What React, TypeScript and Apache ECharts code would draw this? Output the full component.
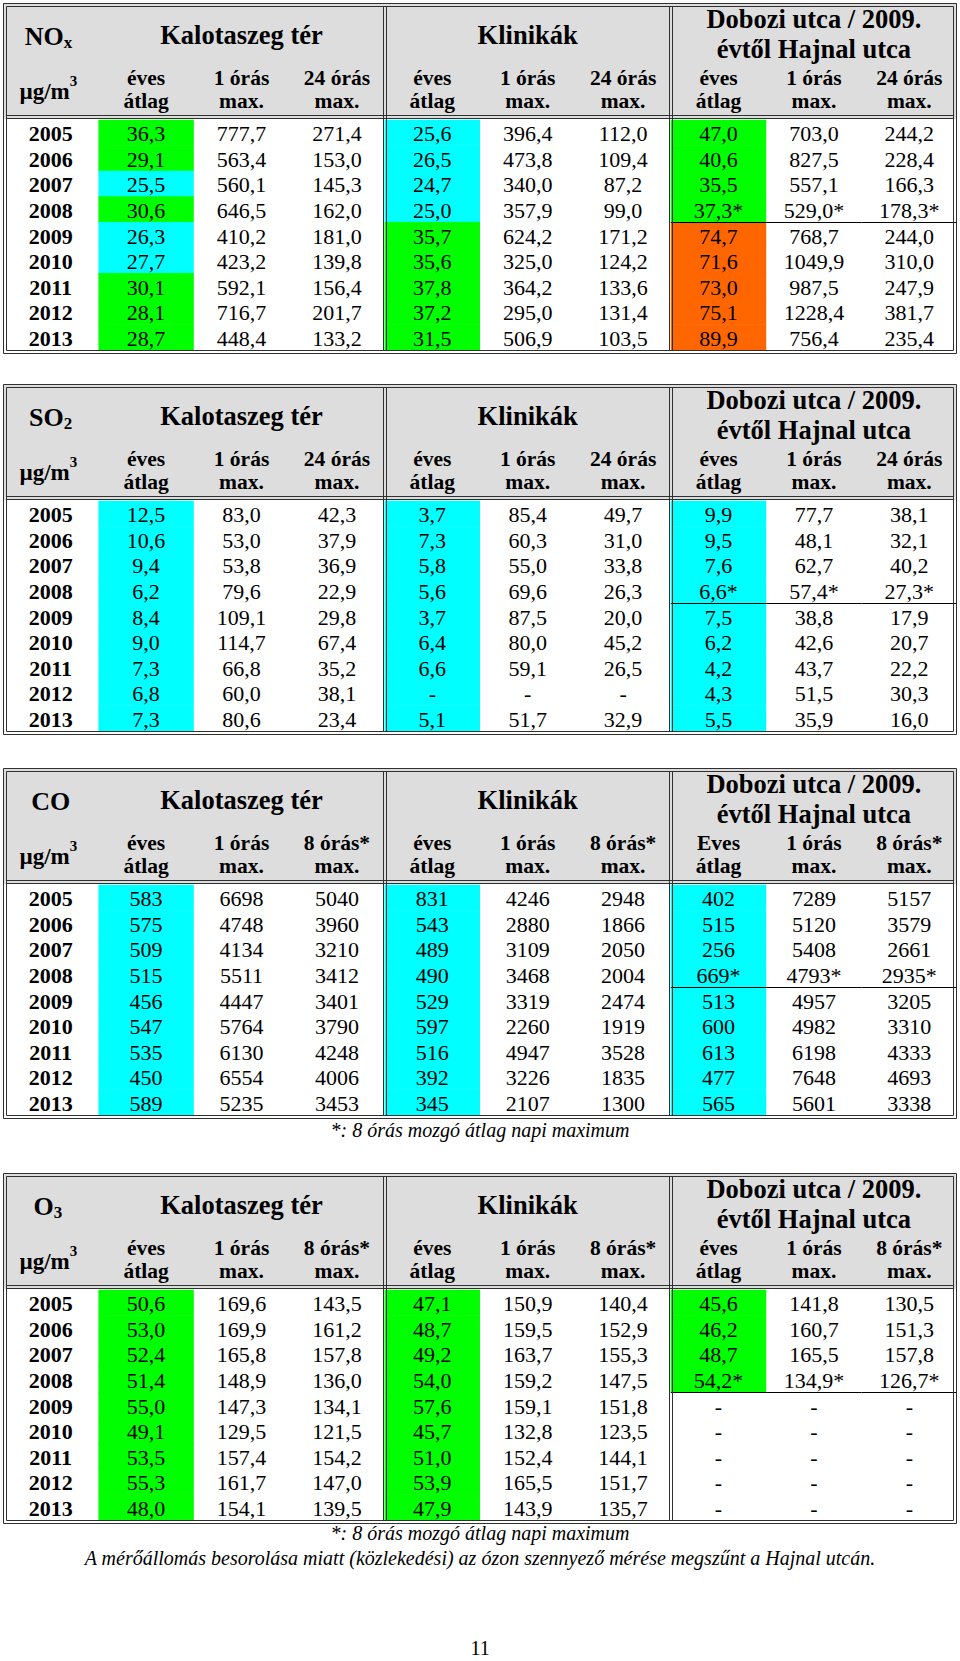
import React, { useEffect, useRef } from "react";
import * as echarts from "echarts";

const FONT = "'Liberation Serif', 'Times New Roman', serif";

// ---------- data ----------
const years = ["2005", "2006", "2007", "2008", "2009", "2010", "2011", "2012", "2013"];
const stationNames = [["Kalotaszeg tér"], ["Klinikák"], ["Dobozi utca / 2009.", "évtől Hajnal utca"]];
const provisionalYear = "2008"; // Dobozi utca values of this year carry a "*"
const provisionalStation = 2;

const subStd = [["éves", "átlag"], ["1 órás", "max."], ["24 órás", "max."]];
const sub8h = [["éves", "átlag"], ["1 órás", "max."], ["8 órás*", "max."]];
const sub8hCap = [["Eves", "átlag"], ["1 órás", "max."], ["8 órás*", "max."]];

// NOx
const noxKalAnnual = [36.3, 29.1, 25.5, 30.6, 26.3, 27.7, 30.1, 28.1, 28.7];
const noxKalMax1h = [777.7, 563.4, 560.1, 646.5, 410.2, 423.2, 592.1, 716.7, 448.4];
const noxKalMax24h = [271.4, 153.0, 145.3, 162.0, 181.0, 139.8, 156.4, 201.7, 133.2];
const noxKliAnnual = [25.6, 26.5, 24.7, 25.0, 35.7, 35.6, 37.8, 37.2, 31.5];
const noxKliMax1h = [396.4, 473.8, 340.0, 357.9, 624.2, 325.0, 364.2, 295.0, 506.9];
const noxKliMax24h = [112.0, 109.4, 87.2, 99.0, 171.2, 124.2, 133.6, 131.4, 103.5];
const noxDobAnnual = [47.0, 40.6, 35.5, 37.3, 74.7, 71.6, 73.0, 75.1, 89.9];
const noxDobMax1h = [703.0, 827.5, 557.1, 529.0, 768.7, 1049.9, 987.5, 1228.4, 756.4];
const noxDobMax24h = [244.2, 228.4, 166.3, 178.3, 244.0, 310.0, 247.9, 381.7, 235.4];
const noxKalClass = ["g", "g", "c", "g", "c", "c", "g", "g", "g"];
const noxKliClass = ["c", "c", "c", "c", "g", "g", "g", "g", "g"];
const noxDobClass = ["g", "g", "g", "g", "o", "o", "o", "o", "o"];

// SO2
const so2KalAnnual = [12.5, 10.6, 9.4, 6.2, 8.4, 9.0, 7.3, 6.8, 7.3];
const so2KalMax1h = [83.0, 53.0, 53.8, 79.6, 109.1, 114.7, 66.8, 60.0, 80.6];
const so2KalMax24h = [42.3, 37.9, 36.9, 22.9, 29.8, 67.4, 35.2, 38.1, 23.4];
const so2KliAnnual = [3.7, 7.3, 5.8, 5.6, 3.7, 6.4, 6.6, null, 5.1];
const so2KliMax1h = [85.4, 60.3, 55.0, 69.6, 87.5, 80.0, 59.1, null, 51.7];
const so2KliMax24h = [49.7, 31.0, 33.8, 26.3, 20.0, 45.2, 26.5, null, 32.9];
const so2DobAnnual = [9.9, 9.5, 7.6, 6.6, 7.5, 6.2, 4.2, 4.3, 5.5];
const so2DobMax1h = [77.7, 48.1, 62.7, 57.4, 38.8, 42.6, 43.7, 51.5, 35.9];
const so2DobMax24h = [38.1, 32.1, 40.2, 27.3, 17.9, 20.7, 22.2, 30.3, 16.0];
const so2KalClass = ["c", "c", "c", "c", "c", "c", "c", "c", "c"];
const so2KliClass = ["c", "c", "c", "c", "c", "c", "c", "c", "c"];
const so2DobClass = ["c", "c", "c", "c", "c", "c", "c", "c", "c"];

// CO
const coKalAnnual = [583, 575, 509, 515, 456, 547, 535, 450, 589];
const coKalMax1h = [6698, 4748, 4134, 5511, 4447, 5764, 6130, 6554, 5235];
const coKalMax8h = [5040, 3960, 3210, 3412, 3401, 3790, 4248, 4006, 3453];
const coKliAnnual = [831, 543, 489, 490, 529, 597, 516, 392, 345];
const coKliMax1h = [4246, 2880, 3109, 3468, 3319, 2260, 4947, 3226, 2107];
const coKliMax8h = [2948, 1866, 2050, 2004, 2474, 1919, 3528, 1835, 1300];
const coDobAnnual = [402, 515, 256, 669, 513, 600, 613, 477, 565];
const coDobMax1h = [7289, 5120, 5408, 4793, 4957, 4982, 6198, 7648, 5601];
const coDobMax8h = [5157, 3579, 2661, 2935, 3205, 3310, 4333, 4693, 3338];
const coKalClass = ["c", "c", "c", "c", "c", "c", "c", "c", "c"];
const coKliClass = ["c", "c", "c", "c", "c", "c", "c", "c", "c"];
const coDobClass = ["c", "c", "c", "c", "c", "c", "c", "c", "c"];

// O3
const o3KalAnnual = [50.6, 53.0, 52.4, 51.4, 55.0, 49.1, 53.5, 55.3, 48.0];
const o3KalMax1h = [169.6, 169.9, 165.8, 148.9, 147.3, 129.5, 157.4, 161.7, 154.1];
const o3KalMax8h = [143.5, 161.2, 157.8, 136.0, 134.1, 121.5, 154.2, 147.0, 139.5];
const o3KliAnnual = [47.1, 48.7, 49.2, 54.0, 57.6, 45.7, 51.0, 53.9, 47.9];
const o3KliMax1h = [150.9, 159.5, 163.7, 159.2, 159.1, 132.8, 152.4, 165.5, 143.9];
const o3KliMax8h = [140.4, 152.9, 155.3, 147.5, 151.8, 123.5, 144.1, 151.7, 135.7];
const o3DobAnnual = [45.6, 46.2, 48.7, 54.2, null, null, null, null, null];
const o3DobMax1h = [141.8, 160.7, 165.5, 134.9, null, null, null, null, null];
const o3DobMax8h = [130.5, 151.3, 157.8, 126.7, null, null, null, null, null];
const o3KalClass = ["g", "g", "g", "g", "g", "g", "g", "g", "g"];
const o3KliClass = ["g", "g", "g", "g", "g", "g", "g", "g", "g"];
const o3DobClass = ["g", "g", "g", "g", "", "", "", "", ""];

const footnote8h = "*: 8 órás mozgó átlag napi maximum";
const footnoteO3 = "A mérőállomás besorolása miatt (közlekedési) az ózon szennyező mérése megszűnt a Hajnal utcán.";
const pageNumber = "11";

// ---------- table specs ----------
const tables = [
  {
    main: "NO", sub: "x", top: 3, decimals: 1,
    subheads: [subStd, subStd, subStd],
    columns: [noxKalAnnual, noxKalMax1h, noxKalMax24h, noxKliAnnual, noxKliMax1h, noxKliMax24h, noxDobAnnual, noxDobMax1h, noxDobMax24h],
    classes: [noxKalClass, noxKliClass, noxDobClass],
  },
  {
    main: "SO", sub: "2", top: 384, decimals: 1,
    subheads: [subStd, subStd, subStd],
    columns: [so2KalAnnual, so2KalMax1h, so2KalMax24h, so2KliAnnual, so2KliMax1h, so2KliMax24h, so2DobAnnual, so2DobMax1h, so2DobMax24h],
    classes: [so2KalClass, so2KliClass, so2DobClass],
  },
  {
    main: "CO", sub: "", top: 768, decimals: 0,
    subheads: [sub8h, sub8h, sub8hCap],
    columns: [coKalAnnual, coKalMax1h, coKalMax8h, coKliAnnual, coKliMax1h, coKliMax8h, coDobAnnual, coDobMax1h, coDobMax8h],
    classes: [coKalClass, coKliClass, coDobClass],
  },
  {
    main: "O", sub: "3", top: 1173, decimals: 1,
    subheads: [sub8h, sub8h, sub8h],
    columns: [o3KalAnnual, o3KalMax1h, o3KalMax8h, o3KliAnnual, o3KliMax1h, o3KliMax8h, o3DobAnnual, o3DobMax1h, o3DobMax8h],
    classes: [o3KalClass, o3KliClass, o3DobClass],
  },
];

// ---------- layout / style ----------
const W = 960;
const H = 1661;
const L = 3;
const R = 957;
const COLS = 10;
const COLW = (R - L) / COLS;
const BODY_TOP = 117;
const BODY_H = 230;
const HEADER_BG = "#dddddd";
const STROKE = "#303030";
const FILLS: Record<string, string> = { g: "#00ff00", c: "#00ffff", o: "#ff6600" };

function fmt(v: number | null, d: number, star: boolean) {
  if (v == null) return "-";
  return v.toFixed(d).replace(".", ",") + (star ? "*" : "");
}

function txt(x: number, y: number, text: string, size: number, opts: any = {}) {
  return {
    type: "text",
    x,
    y,
    z: 60,
    style: {
      text,
      fontSize: size,
      fontFamily: FONT,
      fontWeight: opts.weight || "normal",
      fontStyle: opts.style || "normal",
      fill: "#000",
      align: opts.align || "center",
      textAlign: opts.align || "center",
      verticalAlign: "middle",
      textVerticalAlign: "middle",
    },
  };
}

function line(x1: number, y1: number, x2: number, y2: number) {
  return { type: "line", z: 50, shape: { x1, y1, x2, y2 }, style: { stroke: STROKE, lineWidth: 1 } };
}

function tableGraphics(t: any) {
  const T = t.top;
  const els: any[] = [];
  const bottomInner = T + BODY_TOP + BODY_H + 0.5;
  els.push({ type: "rect", z: 0, shape: { x: L, y: T, width: R - L, height: BODY_TOP - 1 }, style: { fill: HEADER_BG } });
  els.push({ type: "rect", z: 50, shape: { x: L + 0.5, y: T + 0.5, width: R - L - 1, height: bottomInner + 3 - (T + 0.5) }, style: { fill: "none", stroke: STROKE, lineWidth: 1 } });
  els.push({ type: "rect", z: 50, shape: { x: L + 3.5, y: T + 3.5, width: R - L - 7, height: bottomInner - (T + 3.5) }, style: { fill: "none", stroke: STROKE, lineWidth: 1 } });
  els.push(line(L + 3.5, T + BODY_TOP - 4.5, R - 3.5, T + BODY_TOP - 4.5));
  els.push(line(L + 3.5, T + BODY_TOP - 1.5, R - 3.5, T + BODY_TOP - 1.5));
  [4, 7].forEach((k) => {
    const x = Math.round(L + k * COLW);
    els.push(line(x - 1.5, T + 3.5, x - 1.5, bottomInner));
    els.push(line(x + 1.5, T + 3.5, x + 1.5, bottomInner));
  });
  const c0 = L + COLW / 2;
  // pollutant label
  if (t.sub) {
    const split = c0 + (t.main.length === 1 ? 3 : 13);
    els.push(txt(split, T + 33, t.main, 26, { weight: "bold", align: "right" }));
    els.push(txt(split, T + 39, t.sub, 17, { weight: "bold", align: "left" }));
  } else {
    els.push(txt(c0, T + 33, t.main, 26, { weight: "bold" }));
  }
  els.push(txt(c0 + 19, T + 88, "µg/m", 23, { weight: "bold", align: "right" }));
  els.push(txt(c0 + 19, T + 78, "3", 15, { weight: "bold", align: "left" }));
  // station names
  stationNames.forEach((nm, s) => {
    const cx = L + COLW * (1 + 3 * s + 1.5);
    if (nm.length === 1) els.push(txt(cx, T + 32, nm[0], 26.5, { weight: "bold" }));
    else {
      els.push(txt(cx, T + 16, nm[0], 26.5, { weight: "bold" }));
      els.push(txt(cx, T + 46, nm[1], 26.5, { weight: "bold" }));
    }
    t.subheads[s].forEach((pair: string[], m: number) => {
      const x = L + COLW * (1 + 3 * s + m + 0.5);
      els.push(txt(x, T + 75, pair[0], 21.5, { weight: "bold" }));
      els.push(txt(x, T + 98, pair[1], 21.5, { weight: "bold" }));
    });
  });
  return els;
}

function buildCells(t: any) {
  const cells: any[] = [];
  years.forEach((y, r) => {
    cells.push({ c: 0, r, text: y, bold: true, fill: null, sep: false });
    t.columns.forEach((col: (number | null)[], k: number) => {
      const s = Math.floor(k / 3);
      const star = s === provisionalStation && y === provisionalYear;
      const cls = k % 3 === 0 ? t.classes[s][r] : "";
      cells.push({
        c: k + 1,
        r,
        text: fmt(col[r], t.decimals, star),
        bold: false,
        fill: cls ? FILLS[cls] : null,
        sep: s === provisionalStation && y === provisionalYear,
      });
    });
  });
  return cells;
}

export default function App() {
  const ref = useRef<HTMLDivElement>(null);
  useEffect(() => {
    if (!ref.current) return;
    const chart = echarts.init(ref.current, undefined, { renderer: "svg" });
    const colKeys = Array.from({ length: COLS }, (_, i) => String(i));
    const graphics: any[] = [];
    tables.forEach((t) => graphics.push(...tableGraphics(t)));
    graphics.push(txt(480, 1130, footnote8h, 20, { style: "italic" }));
    graphics.push(txt(480, 1533, footnote8h, 20, { style: "italic" }));
    graphics.push(txt(480, 1558, footnoteO3, 20, { style: "italic" }));
    graphics.push(txt(480, 1648, pageNumber, 20));

    const option: any = {
      animation: false,
      backgroundColor: "#ffffff",
      grid: tables.map((t) => ({ left: L, width: R - L, top: t.top + BODY_TOP, height: BODY_H, containLabel: false })),
      xAxis: tables.map((_, i) => ({ type: "category", gridIndex: i, data: colKeys, show: false })),
      yAxis: tables.map((_, i) => ({ type: "category", gridIndex: i, data: years, inverse: true, show: false })),
      series: tables.map((t, i) => {
        const cells = buildCells(t);
        return {
          type: "custom",
          xAxisIndex: i,
          yAxisIndex: i,
          z: 2,
          data: cells.map((c) => [c.c, c.r]),
          renderItem: (params: any, api: any) => {
            const cell = cells[params.dataIndex];
            const pt = api.coord([api.value(0), api.value(1)]);
            const sz = api.size([1, 1]);
            const x0 = pt[0] - sz[0] / 2;
            const y0 = pt[1] - sz[1] / 2;
            const children: any[] = [];
            if (cell.fill) {
              children.push({ type: "rect", z2: 1, shape: { x: x0, y: y0 - 0.3, width: sz[0], height: sz[1] + 0.6 }, style: { fill: cell.fill } });
            }
            children.push({
              type: "text",
              z2: 5,
              x: pt[0],
              y: pt[1] + 1,
              style: {
                text: cell.text,
                fontSize: 22,
                fontFamily: FONT,
                fontWeight: cell.bold ? "bold" : "normal",
                fill: "#000",
                align: "center",
                textAlign: "center",
                verticalAlign: "middle",
                textVerticalAlign: "middle",
              },
            });
            if (cell.sep) {
              const yb = Math.round(y0 + sz[1]) + 0.5;
              children.push({ type: "line", z2: 10, shape: { x1: x0, y1: yb, x2: x0 + sz[0], y2: yb }, style: { stroke: "#000", lineWidth: 1 } });
            }
            return { type: "group", children };
          },
        };
      }),
      graphic: { elements: graphics },
    };
    chart.setOption(option);
    return () => chart.dispose();
  }, []);
  return <div ref={ref} style={{ position: "absolute", left: 0, top: 0, width: W, height: H }} />;
}
